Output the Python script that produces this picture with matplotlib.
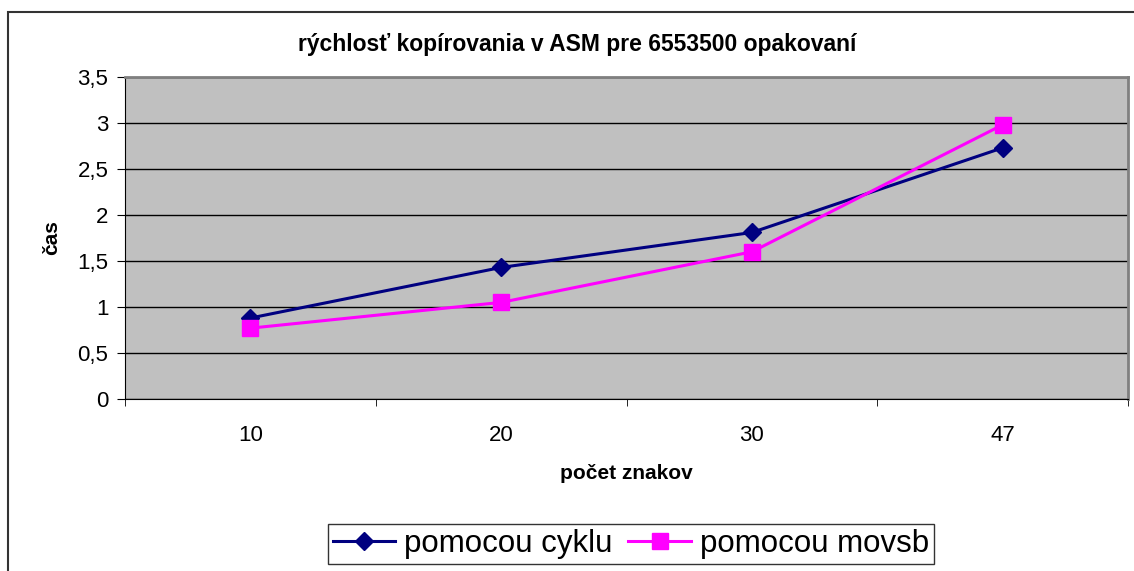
import matplotlib.pyplot as plt
from matplotlib.patches import Rectangle

categories = ["10", "20", "30", "47"]
cyklu = [0.88, 1.43, 1.81, 2.73]
movsb = [0.77, 1.05, 1.60, 2.98]
y_ticks = [0, 0.5, 1, 1.5, 2, 2.5, 3, 3.5]
y_labels = ["0", "0,5", "1", "1,5", "2", "2,5", "3", "3,5"]

plt.rcParams["font.family"] = ["Liberation Sans", "DejaVu Sans"]

fig = plt.figure(figsize=(11.34, 5.71), dpi=100)
# outer chart frame
fig.patches.append(Rectangle((8 / 1134, -0.01), 1.2, 1 - 12 / 571 + 0.01,
                             transform=fig.transFigure, fill=False,
                             edgecolor="#333333", linewidth=1.5))

ax = fig.add_axes([125 / 1134, 1 - 399 / 571, 1003 / 1134, 322 / 571])
ax.set_facecolor("#c0c0c0")

x = list(range(len(categories)))
ax.plot(x, cyklu, color="#000080", linewidth=2.2, marker="D", markersize=9,
        label="pomocou cyklu")
ax.plot(x, movsb, color="#ff00ff", linewidth=2.2, marker="s", markersize=11,
        label="pomocou movsb")

ax.set_xlim(-0.5, len(categories) - 0.5)
ax.set_ylim(0, 3.5)
ax.set_yticks(y_ticks)
ax.set_yticklabels(y_labels, fontsize=16)
ax.set_xticks(x)
ax.set_xticklabels(categories, fontsize=16)
ax.set_xticks([i - 0.5 for i in range(len(categories) + 1)], minor=True)
ax.tick_params(axis="x", which="major", length=0, pad=19)
ax.tick_params(axis="x", which="minor", length=5, direction="out")
ax.tick_params(axis="y", length=6, direction="out", pad=6)
ax.yaxis.grid(True, color="black", linewidth=1)
ax.set_axisbelow(True)

for side in ["left", "bottom"]:
    ax.spines[side].set_color("black")
for side in ["top", "right"]:
    ax.spines[side].set_color("#808080")
    ax.spines[side].set_linewidth(2)

ax.set_xlabel("počet znakov", fontsize=15, fontweight="bold", labelpad=13)
ax.set_ylabel("čas", fontsize=15, fontweight="bold", labelpad=12)
fig.text(577 / 1134, 1 - 45 / 571, "rýchlosť kopírovania v ASM pre 6553500 opakovaní",
         ha="center", va="center", fontsize=16.5, fontweight="bold")

leg = fig.legend(loc="center", bbox_to_anchor=(631 / 1134, 1 - 544 / 571),
                 ncol=2, fontsize=22.5, frameon=True, fancybox=False,
                 edgecolor="black", handlelength=2.0, handletextpad=0.3,
                 columnspacing=0.5, borderpad=0.15)
leg.get_frame().set_linewidth(1)

fig.savefig("out.png", dpi=100)
